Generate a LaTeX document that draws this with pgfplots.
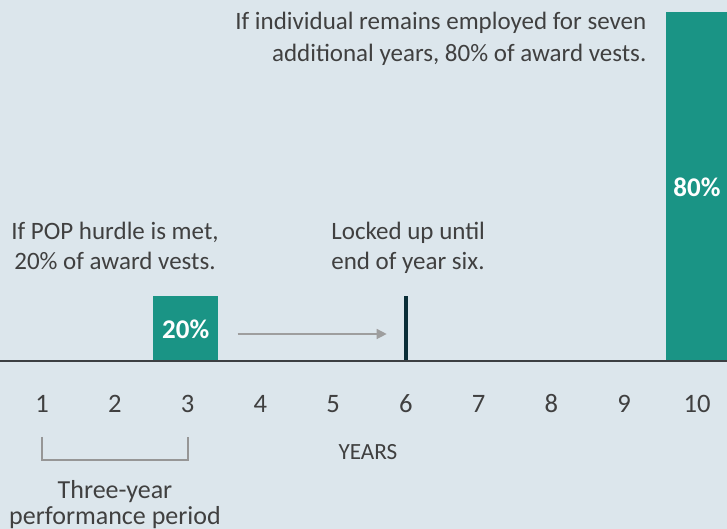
\documentclass[border=0pt]{standalone}
\usepackage{fontspec}
\setmainfont{Carlito}
\usepackage{pgfplots}
\pgfplotsset{compat=1.18}
\usetikzlibrary{arrows.meta}
\definecolor{bgc}{RGB}{220,230,236}
\definecolor{tealc}{RGB}{26,148,133}
\definecolor{darkc}{RGB}{10,46,56}
\definecolor{basec}{RGB}{60,63,66}
\definecolor{textc}{RGB}{64,64,64}
\definecolor{arrowc}{RGB}{158,158,158}
\definecolor{brc}{RGB}{150,150,150}
\newcommand\lbl{\fontsize{12.5}{15}\selectfont}
\begin{document}
\begin{tikzpicture}
\begin{axis}[
  scale only axis, width=363.5pt, height=264.5pt,
  xmin=0.423, xmax=10.412, ymin=-168, ymax=361,
  axis x line=middle, axis y line=none,
  x axis line style={-, line width=1pt, color=basec},
  xtick={1,2,3,4,5,6,7,8,9,10},
  xticklabels={\textrm{1},\textrm{2},\textrm{3},\textrm{4},\textrm{5},\textrm{6},\textrm{7},\textrm{8},\textrm{9},\textrm{10}},
  major tick length=0pt,
  x tick label style={font=\fontsize{13.3}{15}\selectfont, text=textc, anchor=base, yshift=-26pt},
  axis background/.style={fill=bgc},
  axis on top,
  clip=false,
]
\addplot[ybar, bar width=0.9, bar shift=-0.025, fill=tealc, draw=none] coordinates {(3,65)};
\addplot[ybar, bar width=0.9, bar shift=0.024, fill=tealc, draw=none] coordinates {(10,349)};
\addplot[line width=1.75pt, color=darkc] coordinates {(6,0) (6,65)};
\addplot[-{Triangle[length=5pt,width=5pt]}, color=arrowc, line width=0.7pt] coordinates {(3.689,27) (5.736,27)};
\addplot[color=brc, line width=0.8pt] coordinates {(1,-76) (1,-99) (3.006,-99) (3.006,-76)};
\node[font=\fontsize{13.5}{15}\selectfont\bfseries, text=white] at (axis cs:2.975,32) {20\%};
\node[font=\fontsize{13.5}{15}\selectfont\bfseries, text=white] at (axis cs:10,174) {80\%};
\node[font=\lbl, text=textc, anchor=base] at (axis cs:2.003,121.7) {If POP hurdle is met,};
\node[font=\lbl, text=textc, anchor=base] at (axis cs:2.003,91.7) {20\% of award vests.};
\node[font=\lbl, text=textc, anchor=base west, inner sep=0pt] at (axis cs:4.97,121.7) {Locked up until};
\node[font=\lbl, text=textc, anchor=base west, inner sep=0pt] at (axis cs:4.97,91.7) {end of year six.};
\node[font=\lbl, text=textc, anchor=base east, inner sep=0pt] at (axis cs:9.309,331) {If individual remains employed for seven};
\node[font=\lbl, text=textc, anchor=base east, inner sep=0pt] at (axis cs:9.309,299.3) {additional years, 80\% of award vests.};
\node[font=\fontsize{11.6}{14}\selectfont, text=textc, anchor=base] at (axis cs:5.479,-99) {YEARS};
\node[font=\fontsize{13}{15}\selectfont, text=textc, anchor=base] at (axis cs:2.003,-137.3) {Three-year};
\node[font=\fontsize{13}{15}\selectfont, text=textc, anchor=base] at (axis cs:2.003,-164) {performance period};
\end{axis}
\pgfresetboundingbox
\path[use as bounding box] (current axis.south west) rectangle (current axis.north east);
\end{tikzpicture}
\end{document}
